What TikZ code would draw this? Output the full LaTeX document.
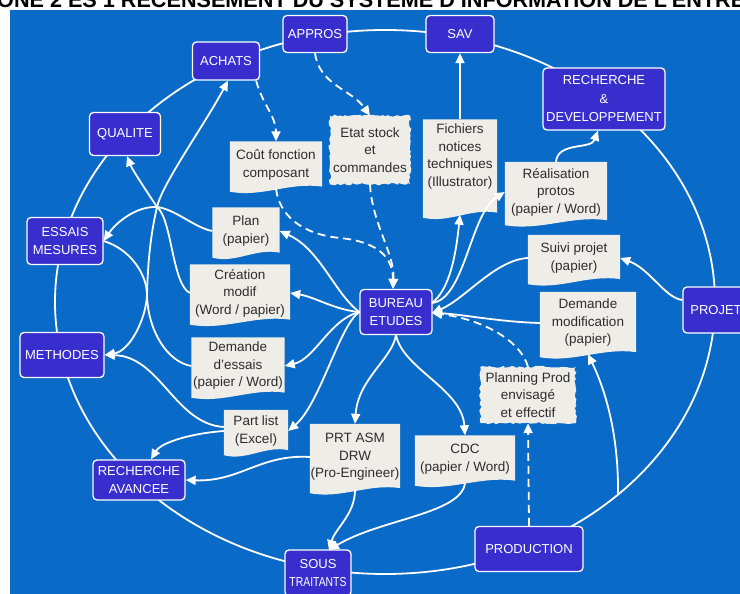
\documentclass[tikz,border=0pt]{standalone}
\usepackage{fontspec}
\setmainfont{Liberation Sans}
\usepackage{graphicx}
\usetikzlibrary{arrows.meta,calc,decorations.pathmorphing}
\definecolor{bgblue}{RGB}{10,106,200}
\definecolor{deptfill}{RGB}{56,46,206}
\definecolor{docfill}{RGB}{238,237,232}
\definecolor{doctext}{RGB}{45,45,45}
\pgfdeclarelayer{bglayer}
\pgfdeclarelayer{ringlayer}
\pgfdeclarelayer{doclayer}
\pgfsetlayers{bglayer,ringlayer,doclayer,main}
\newcommand\docshape[1]{%
  \begin{pgfonlayer}{doclayer}
  \fill[docfill] (#1.north west) -- (#1.north east) -- ([yshift=2pt]#1.south east)
    .. controls ($(#1.south east)!0.35!(#1.south west)+(0,7)$) and ($(#1.south east)!0.65!(#1.south west)+(0,-9)$) ..
    ([yshift=-3pt]#1.south west) -- cycle;
  \end{pgfonlayer}}
\newcommand\roughdoc[1]{%
  \begin{pgfonlayer}{doclayer}
  \fill[docfill,decorate,decoration={random steps,segment length=2.5pt,amplitude=1.2pt}]
    (#1.north west) rectangle (#1.south east);
  \end{pgfonlayer}}
\tikzset{
  dept/.style={draw=white, line width=1.3pt, fill=deptfill, rounded corners=4pt,
    text=white, align=center, inner sep=0pt, font=\fontsize{13}{18.5}\selectfont},
  doc/.style={align=center, inner sep=0pt, text=doctext, font=\fontsize{13.5}{17.5}\selectfont},
  conn/.style={draw=white, line width=1.8pt},
  arr/.style={conn, -{Triangle[length=10pt,width=9pt]}},
  dsh/.style={conn, dash pattern=on 8pt off 5pt},
  darr/.style={dsh, -{Triangle[length=10pt,width=9pt]}},
}
\begin{document}
\begin{tikzpicture}[x=1pt,y=1pt]
\useasboundingbox (0,0) rectangle (740,594);
\clip (0,0) rectangle (740,594);
\begin{pgfonlayer}{bglayer}
  \fill[white] (0,0) rectangle (740,594);
  \fill[bgblue] (10,0) rectangle (740,584);
\end{pgfonlayer}
\node[anchor=base west, inner sep=0pt] (title) at (-3,586)
  {\resizebox{748pt}{!}{\bfseries ONE 2 ES 1 RECENSEMENT DU SYSTEME D'INFORMATION DE L'ENTRE}};
% ring
\begin{pgfonlayer}{ringlayer}
  \draw[conn] (385,292) ellipse [x radius=330, y radius=272];
\end{pgfonlayer}
\coordinate (rp) at (618,99);
% departments
\node[dept,minimum width=64pt,minimum height=37pt] (appros) at (315,560) {APPROS};
\node[dept,minimum width=68pt,minimum height=37pt] (sav) at (460,560) {SAV};
\node[dept,minimum width=67pt,minimum height=38pt] (achats) at (226,533) {ACHATS};
\node[dept,minimum width=122pt,minimum height=62pt] (rd) at (604,495) {RECHERCHE\\\&\\DEVELOPPEMENT};
\node[dept,minimum width=71pt,minimum height=43pt] (qualite) at (125,460) {QUALITE};
\node[dept,minimum width=76pt,minimum height=47pt] (essais) at (65,353) {ESSAIS\\MESURES};
\node[dept,minimum width=84pt,minimum height=45pt] (methodes) at (62,239) {METHODES};
\node[dept,minimum width=92pt,minimum height=40pt] (recav) at (139,114) {RECHERCHE\\AVANCEE};
\node[dept,minimum width=66pt,minimum height=46pt] (sous) at (318,21) {SOUS\\\scalebox{0.8}[1]{TRAITANTS}};
\node[dept,minimum width=108pt,minimum height=45pt] (prod) at (529,45) {PRODUCTION};
\node[dept,minimum width=66pt,minimum height=46pt] (projet) at (716,284) {PROJET};
\node[dept,minimum width=72pt,minimum height=45pt] (bureau) at (396,282) {BUREAU\\ETUDES};
% documents
\node[doc,minimum width=92pt,minimum height=47pt] (cout) at (276,429) {Coût fonction\\composant};
\node[doc,minimum width=80pt,minimum height=68pt] (etat) at (370,444) {Etat stock\\et\\commandes};
\node[doc,minimum width=74pt,minimum height=95pt] (fich) at (460,427) {Fichiers\\notices\\techniques\\(Illustrator)\\[6pt]};
\node[doc,minimum width=102pt,minimum height=60pt] (real) at (556,402) {Réalisation\\protos\\(papier / Word)};
\node[doc,minimum width=67pt,minimum height=47pt] (plan) at (246,363) {Plan\\(papier)};
\node[doc,minimum width=92pt,minimum height=46pt] (suivi) at (574,336) {Suivi projet\\(papier)};
\node[doc,minimum width=100pt,minimum height=57pt] (crea) at (240,301) {Création\\modif\\(Word / papier)};
\node[doc,minimum width=96pt,minimum height=62pt] (dmod) at (588,271) {Demande\\modification\\(papier)};
\node[doc,minimum width=93pt,minimum height=57pt] (dess) at (238,228) {Demande\\d'essais\\(papier / Word)};
\node[doc,minimum width=95pt,minimum height=56pt] (plann) at (528,199) {Planning Prod\\envisagé\\et effectif};
\node[doc,minimum width=64pt,minimum height=42pt] (part) at (256,163) {Part list\\(Excel)};
\node[doc,minimum width=90pt,minimum height=66pt] (prt) at (355,137) {PRT ASM\\DRW\\(Pro-Engineer)};
\node[doc,minimum width=100pt,minimum height=47pt] (cdc) at (465,135) {CDC\\(papier / Word)};
\docshape{cout}\roughdoc{etat}\docshape{fich}\docshape{real}\docshape{plan}
\docshape{suivi}\docshape{crea}\docshape{dmod}\docshape{dess}\roughdoc{plann}
\docshape{part}\docshape{prt}\docshape{cdc}
\coordinate (bin) at (432,281);
\coordinate (bout) at (432,291);
\coordinate (J) at (157,387);
\coordinate (P) at (147,299);
\coordinate (stin) at (329,44);
% dashed flows
\draw[darr] (appros.south) to[out=-82,in=125] (etat.north);
\draw[darr] ([xshift=-4pt]achats.south east) to[out=-75,in=90] (cout.north);
\draw[darr] (cout.south) .. controls (279,380) and (300,360) .. (340,356)
  .. controls (380,352) and (393,335) .. ([xshift=-3pt]bureau.north);
\draw[darr] (etat.south) .. controls (372,370) and (395,340) .. ([xshift=-3pt]bureau.north);
\draw[darr] (plann.north) .. controls (520,255) and (480,275) .. (bin);
\draw[darr] (prod.north) -- (plann.south);
% solid flows, right side
\draw[arr] (fich.north) -- (sav.south);
\draw[arr] (bout) .. controls (450,305) and (456,340) .. (fich.south);
\draw[arr] (bout) .. controls (465,295) and (470,380) .. (real.west);
\draw[arr] (real.north) to[out=85,in=-110] ([xshift=-6pt]rd.south);
\draw[arr] (suivi.west) .. controls (495,334) and (465,295) .. (bin);
\draw[arr] ([yshift=10pt]projet.west) .. controls (665,296) and (650,325) .. (suivi.east);
\draw[arr] (dmod.west) .. controls (500,272) and (460,280) .. (bin);
\draw[arr] (rp) .. controls (619,170) and (600,215) .. (dmod.south);
% down from bureau
\draw[arr] (bureau.south) .. controls (392,235) and (358,215) .. (prt.north);
\draw[arr] (bureau.south) .. controls (403,225) and (462,205) .. (cdc.north);
\draw[arr] (prt.south) .. controls (355,80) and (335,65) .. (stin);
\draw[arr] (cdc.south) .. controls (462,80) and (380,75) .. (stin);
\draw[arr] (prt.west) .. controls (260,140) and (240,112) .. (recav.east);
% left from bureau
\draw[arr] (bureau.west) .. controls (340,270) and (320,190) .. (part.east);
\draw[arr] (bureau.west) .. controls (330,275) and (315,235) .. (dess.east);
\draw[arr] (bureau.west) .. controls (335,284) and (315,297) .. (crea.east);
\draw[arr] (bureau.west) .. controls (335,300) and (320,345) .. (plan.east);
\draw[arr] (part.west) .. controls (185,160) and (160,150) .. ([xshift=12pt]recav.north);
\draw[arr] ([yshift=4pt]part.west) .. controls (175,170) and (160,238) .. (methodes.east);
% left hub
\draw[conn] (plan.west) .. controls (195,366) and (175,385) .. (J);
\draw[conn] (J) .. controls (172,375) and (172,310) .. (crea.west);
\draw[arr] (J) .. controls (145,405) and (132,425) .. ([xshift=2pt]qualite.south);
\draw[conn] (dess.west) .. controls (168,232) and (148,262) .. (P);
\draw[conn] (P) .. controls (147,320) and (130,345) .. (essais.east);
\draw[arr] (J) .. controls (135,388) and (115,370) .. (essais.east);
\draw[arr] (P) .. controls (146,275) and (130,243) .. (methodes.east);
\draw[arr] (P) .. controls (148,340) and (152,365) .. (J)
  .. controls (162,410) and (205,470) .. ([xshift=2pt]achats.south);
\end{tikzpicture}
\end{document}
